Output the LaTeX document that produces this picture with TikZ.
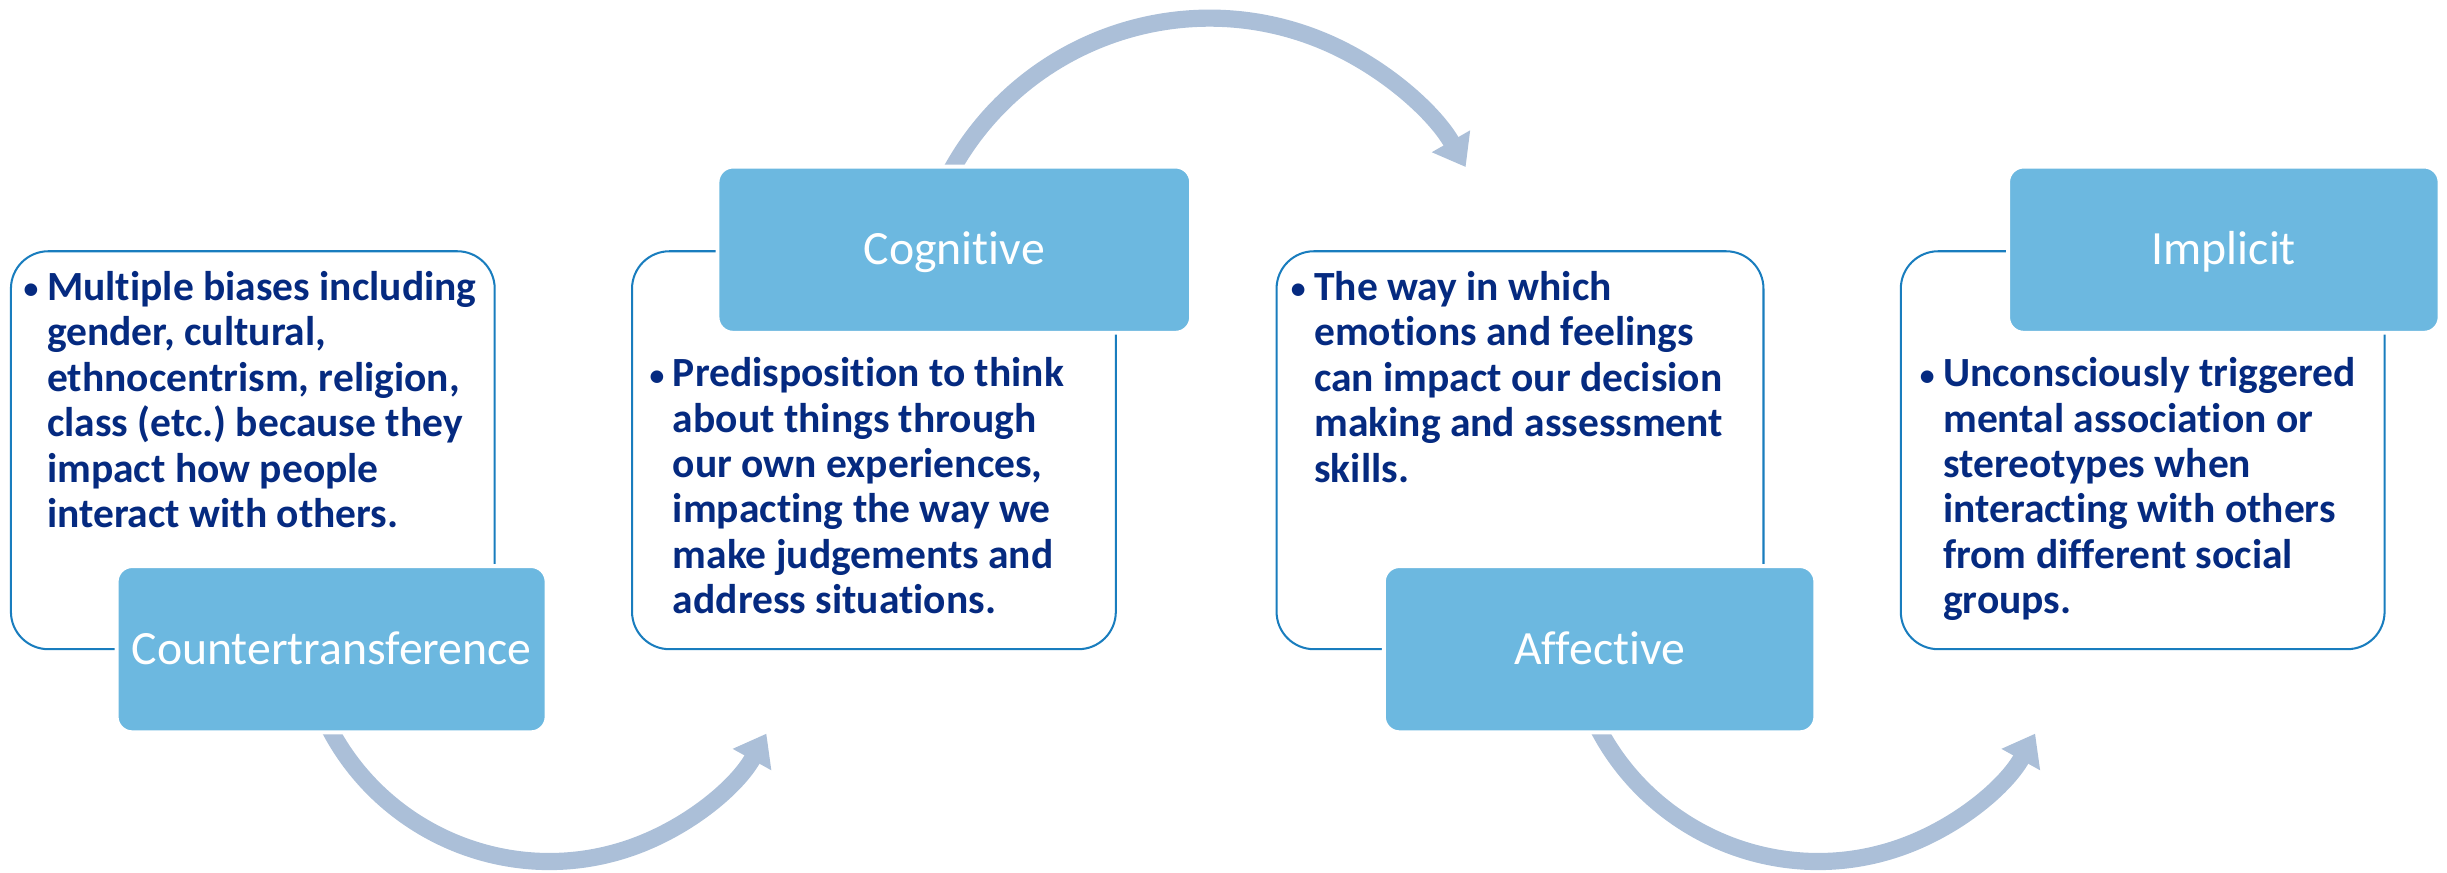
\documentclass[tikz,border=0pt]{standalone}
\usepackage{fontspec}
\setmainfont{Carlito}[Ligatures=NoCommon]
\usetikzlibrary{arrows.meta}
\definecolor{navytxt}{RGB}{5,42,128}
\definecolor{boxfill}{RGB}{108,184,224}
\definecolor{boxline}{RGB}{25,125,190}
\definecolor{arrowc}{RGB}{171,191,216}
\frenchspacing
\begin{document}
\begin{tikzpicture}[x=1pt,y=1pt,
  outlinebox/.style={draw=boxline, line width=1.3pt, fill=white, rounded corners=24pt,
    minimum width=#1pt, minimum height=255pt, inner sep=0pt},
  labelbox/.style={fill=boxfill, draw=white, line width=2.5pt, rounded corners=10pt,
    minimum width=#1pt, minimum height=106.5pt, inner sep=0pt, text=white,
    font=\fontsize{30.6}{34}\selectfont, text height=19.5pt, text depth=0pt},
  bodytxt/.style={inner sep=0pt, anchor=base west, text=navytxt,
    font=\fontsize{26.6}{29.1}\selectfont\bfseries},
  bigarrow/.style={draw=arrowc, line width=11pt, -{Triangle[width=27pt,length=19pt]}}]
\useasboundingbox (0,0) rectangle (1568,559);
\newcommand{\bul}{\makebox[16pt][l]{\hspace{1pt}{\fontsize{19}{19}\selectfont\raisebox{1pt}{•}}}}
% arrows
\coordinate (arrA) at (202.6,111.6);
\coordinate (arrB) at (603.7,438.2);
\coordinate (arrC) at (1015.6,111.6);
\draw[bigarrow] (arrA) arc[start angle=200, end angle=331, radius=159pt];
\draw[bigarrow] (arrB) arc[start angle=155, end angle=29.7, radius=189pt];
\draw[bigarrow] (arrC) arc[start angle=200, end angle=331, radius=159pt];
% outline boxes
\node[outlinebox=310] (b1) at (162,270.5) {};
\node[outlinebox=310] (b2) at (560,270.5) {};
\node[outlinebox=312] (b3) at (974,270.5) {};
\node[outlinebox=310] (b4) at (1373,270.5) {};
% body texts
\node[bodytxt] (t1) at (14,366.5) {\begin{tabular}[t]{@{}l@{}l@{}}
\bul & Multiple biases including\\
 & gender, cultural,\\
 & ethnocentrism, religion,\\
 & class (etc.) because they\\
 & impact how people\\
 & interact with others.
\end{tabular}};
\node[bodytxt] (t2) at (415,311.2) {\begin{tabular}[t]{@{}l@{}l@{}}
\bul & Predisposition to think\\
 & about things through\\
 & our own experiences,\\
 & impacting the way we\\
 & make judgements and\\
 & address situations.
\end{tabular}};
\node[bodytxt] (t3) at (826,366.5) {\begin{tabular}[t]{@{}l@{}l@{}}
\bul & The way in which\\
 & emotions and feelings\\
 & can impact our decision\\
 & making and assessment\\
 & skills.
\end{tabular}};
\node[bodytxt] (t4) at (1229,311.2) {\begin{tabular}[t]{@{}l@{}l@{}}
\bul & Unconsciously triggered\\
 & mental association or\\
 & stereotypes when\\
 & interacting with others\\
 & from different social\\
 & groups.
\end{tabular}};
% label boxes
\node[labelbox=275.5] (ct) at (212.5,143) {Countertransference};
\node[labelbox=303.5] (cog) at (611.5,399) {Cognitive};
\node[labelbox=276.5] (aff) at (1025,143) {Affective};
\node[labelbox=276.5] (imp) at (1425,399) {Implicit};
\end{tikzpicture}
\end{document}
